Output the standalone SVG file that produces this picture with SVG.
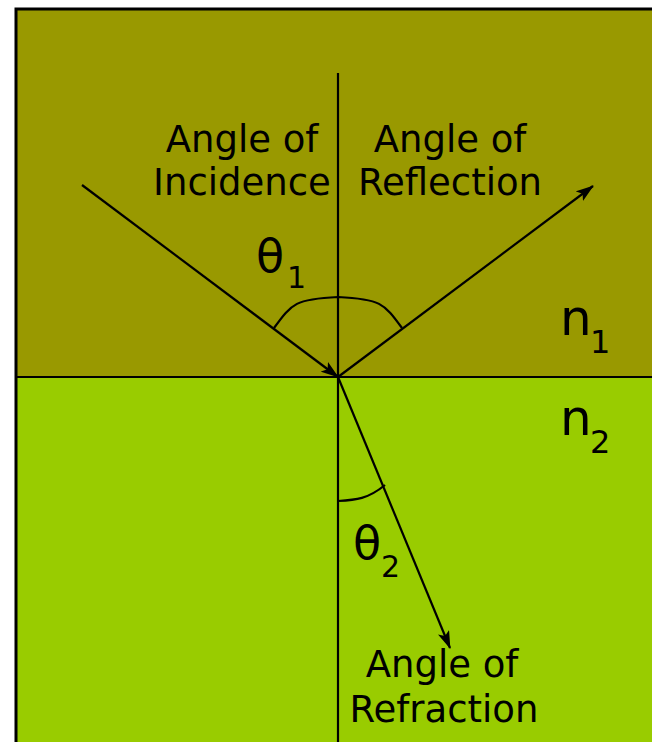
<svg xmlns="http://www.w3.org/2000/svg" width="652" height="742" viewBox="0 0 652 742">
<style>
.t{font-family:"DejaVu Sans",Verdana,sans-serif;font-size:37px;fill:#000;text-anchor:middle}
.g{font-family:"DejaVu Sans",Verdana,sans-serif;fill:#000}
.ln{stroke:#000;stroke-width:2.2;fill:none}
.ray{stroke:#000;stroke-width:2.2;fill:none;marker-end:url(#ah)}
</style>
<defs>
<marker id="ah" viewBox="0 0 18 12" refX="17" refY="6" markerWidth="18" markerHeight="12" markerUnits="userSpaceOnUse" orient="auto">
<path d="M0,0 L18,6 L0,12 L4,6 Z" fill="#000"/>
</marker>
</defs>
<g id="media">
<rect x="16" y="9" width="640" height="368" fill="#999900"/>
<rect x="16" y="377" width="640" height="370" fill="#99CC00"/>
<path d="M16,747 L16,9 L656,9" stroke="#000" stroke-width="3" fill="none"/>
</g>
<g id="connectors">
<line class="ln" x1="16" y1="377" x2="652" y2="377" id="interface"/>
<line class="ln" x1="338" y1="73" x2="338" y2="742" id="normal"/>
<line class="ray" x1="82" y1="185" x2="338" y2="377" id="incident"/>
<line class="ray" x1="338" y1="377" x2="593" y2="186" id="reflected"/>
<line class="ray" x1="338" y1="377" x2="450" y2="648" id="refracted"/>
<path class="ln" d="M274,328 C292,303 296,299 338,297 C380,299 384,303 402,328" id="arc1"/>
<path class="ln" d="M338,501 C356,500 368,499 385,485" id="arc2"/>
</g>
<g id="incidence-label">
<text class="t" x="242" y="152">Angle of</text>
<text class="t" x="242" y="195">Incidence</text>
</g>
<g id="reflection-label">
<text class="t" x="450" y="152">Angle of</text>
<text class="t" x="450" y="195">Reflection</text>
</g>
<g id="refraction-label">
<text class="t" x="442" y="677">Angle of</text>
<text class="t" x="444" y="722">Refraction</text>
</g>
<g id="theta1">
<text class="g" x="256" y="272" font-size="46">θ</text>
<text class="g" x="287" y="288" font-size="30">1</text>
</g>
<g id="theta2">
<text class="g" x="353" y="559" font-size="46">θ</text>
<text class="g" x="381" y="577" font-size="30">2</text>
</g>
<g id="n1">
<text class="g" x="560" y="335" font-size="50">n</text>
<text class="g" x="590" y="353" font-size="32">1</text>
</g>
<g id="n2">
<text class="g" x="560" y="435" font-size="50">n</text>
<text class="g" x="590" y="453" font-size="32">2</text>
</g>
</svg>
